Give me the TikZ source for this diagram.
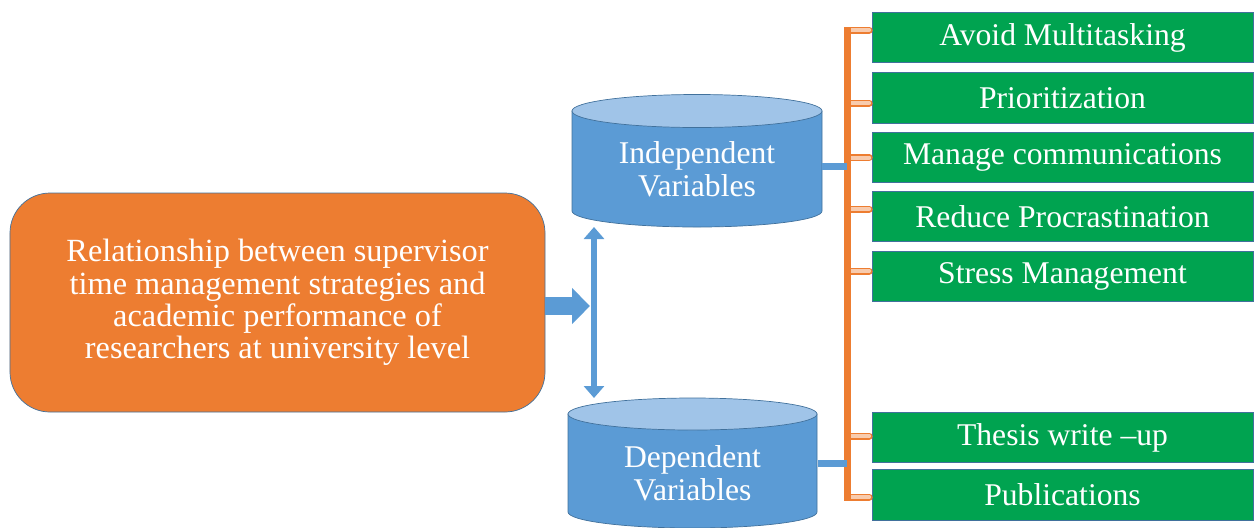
\documentclass[tikz,border=0pt]{standalone}
\usepackage{fontspec}
\setmainfont{Liberation Serif}
\usetikzlibrary{arrows.meta}

\definecolor{boxorange}{RGB}{237,125,49}
\definecolor{cylblue}{RGB}{91,155,213}
\definecolor{cyltop}{RGB}{160,196,232}
\definecolor{edgeblue}{RGB}{65,113,156}
\definecolor{boxgreen}{RGB}{0,163,80}
\definecolor{peach}{RGB}{248,203,173}

\tikzset{
  origbox/.style={draw=edgeblue, thin, fill=boxorange, rounded corners=8mm,
    minimum width=107mm, minimum height=43.8mm, text=white, align=center,
    font=\fontsize{18.4}{18.4}\selectfont},
  itembox/.style={draw=edgeblue, thin, fill=boxgreen, minimum width=76.2mm,
    minimum height=10.1mm, text=white, font=\fontsize{18}{19}\selectfont},
  cyltext/.style={minimum width=50mm, text=white, align=center,
    font=\fontsize{18}{19}\selectfont},
  link/.style={cylblue, line width=1.4mm},
  stub/.style={boxorange, line width=0.3mm, double=peach, double distance=0.8mm, line cap=round},
  bus/.style={boxorange, line width=1.4mm}
}

\begin{document}
\begin{tikzpicture}[x=0.2mm, y=-0.2mm]
\useasboundingbox (0,0) rectangle (1255,527);

% Main box (left)
\node[origbox] (orig) at (277.5,302.5)
  {Relationship between supervisor\\ time management strategies and\\ academic performance of\\ researchers at university level};

% Cylinders
\begin{scope}
  \fill[cylblue, draw=edgeblue, thin] (572,111) -- (572,211)
    arc[start angle=180, end angle=360, x radius=25mm, y radius=3.2mm] -- (822,111) -- cycle;
  \filldraw[fill=cyltop, draw=edgeblue, thin] (697,111) ellipse [x radius=25mm, y radius=3.3mm];
  \node[cyltext] (indep) at (697,169) {Independent\\ Variables};
\end{scope}
\begin{scope}
  \fill[cylblue, draw=edgeblue, thin] (568,414) -- (568,512)
    arc[start angle=180, end angle=360, x radius=24.9mm, y radius=3.2mm] -- (817,414) -- cycle;
  \filldraw[fill=cyltop, draw=edgeblue, thin] (692.5,414) ellipse [x radius=24.9mm, y radius=3.2mm];
  \node[cyltext] (dep) at (692.5,473) {Dependent\\ Variables};
\end{scope}

% Arrows between main box and cylinders
\coordinate (vtop) at (594,227);
\coordinate (vbot) at (594,398);
\draw[cylblue, line width=1.2mm, {Triangle[width=4mm,length=2.4mm]}-{Triangle[width=4mm,length=2.4mm]}] (vtop) -- (vbot);
\draw[cylblue, line width=3.6mm, -{Triangle[width=7mm,length=3.6mm]}] ([yshift=-0.7mm]orig.east) -- ([xshift=-0.8mm,yshift=-0.7mm]vtop |- orig.east);

% Items (right)
\node[itembox] (av) at (1062.5,37.5)  {Avoid Multitasking};
\node[itembox] (pr) at (1062.5,98)    {Prioritization};
\node[itembox] (mc) at (1062.5,157.5) {Manage communications};
\node[itembox] (rp) at (1062.5,216.5) {Reduce Procrastination};
\node[itembox] (sm) at (1062.5,276.5) {Stress Management};
\node[itembox] (th) at (1062.5,437.5) {Thesis write --up};
\node[itembox] (pu) at (1062.5,495)   {Publications};

% Bus and stubs
\coordinate (bustop) at (847,27);
\coordinate (busbot) at (847,501);
\foreach \b/\d in {av/-7.5, pr/5, mc/0, rp/-7.5, sm/-5.5, th/-1.5, pu/2} {
  \path (\b.west) ++(0,\d) coordinate (s\b);
  \draw[stub] ([xshift=0.8mm]bustop |- s\b) -- ([xshift=-0.5mm]s\b);
}
\draw[bus] (bustop) -- (busbot);

% Links from cylinders to bus
\draw[link] ([yshift=0.6mm]indep.east) -- ([yshift=0.6mm]indep.east -| bustop);
\draw[link] ([yshift=2mm]dep.east) -- ([yshift=2mm]dep.east -| bustop);

\end{tikzpicture}
\end{document}
